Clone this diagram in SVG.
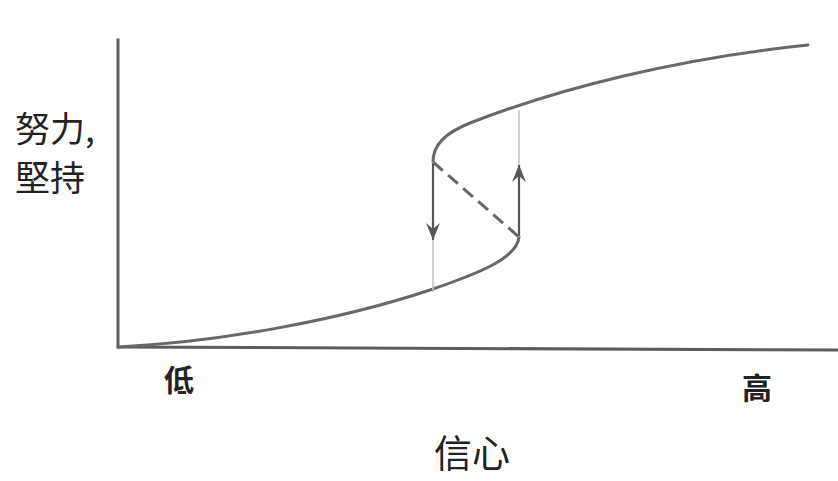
<svg xmlns="http://www.w3.org/2000/svg" width="838" height="481" viewBox="0 0 838 481">
<style>
.axis{stroke:#5e5a60;stroke-width:3;fill:none;stroke-linecap:square}
.curve{stroke:#6b666d;stroke-width:3;fill:none;stroke-linecap:round}
.dash{stroke:#6b666d;stroke-width:3;fill:none;stroke-dasharray:13 7}
.guide{stroke:#c4c2c6;stroke-width:1.5;fill:none}
.arrow{stroke:#58555a;stroke-width:2.2;fill:none}
.lbl{font-family:"Noto Sans CJK SC","Noto Sans CJK TC",sans-serif;fill:#222}
.tick{font-family:"Noto Sans CJK TC","Noto Sans CJK SC",serif;font-weight:bold;fill:#222}
</style>
<defs>
<marker id="ah" viewBox="0 0 18 14" refX="17" refY="7" markerWidth="18" markerHeight="14" markerUnits="userSpaceOnUse" orient="auto">
<path d="M0,0 L17,7 L0,14 L6,7 Z" fill="#58555a"/>
</marker>
</defs>
<rect width="838" height="481" fill="#ffffff"/>
<g id="axes">
<path class="axis" d="M118,40 L118,347 L838,350"/>
</g>
<g id="curve">
<path class="curve" d="M118,347 C220,342 340,320 430,290 C480,273 517,258 519,237"/>
<path class="curve" d="M433,162 C433,145 445,133 470,123 C560,88 680,58 808,45"/>
<path class="dash" d="M433,162 L519,237"/>
</g>
<g id="connectors">
<line class="guide" x1="433" y1="162" x2="433" y2="292"/>
<line class="guide" x1="519" y1="110" x2="519" y2="237"/>
<line class="arrow" x1="433" y1="163" x2="433" y2="240" marker-end="url(#ah)"/>
<line class="arrow" x1="519" y1="236" x2="519" y2="165" marker-end="url(#ah)"/>
</g>
<g id="ylabel">
<text class="lbl" x="15" y="142" font-size="35">努力,</text>
<text class="lbl" x="15" y="191" font-size="35">堅持</text>
</g>
<g id="low"><text class="tick" x="164" y="391" font-size="30">低</text></g>
<g id="high"><text class="tick" x="742" y="399" font-size="30">高</text></g>
<g id="xlabel"><text class="lbl" x="472" y="467" font-size="38" text-anchor="middle">信心</text></g>
</svg>
